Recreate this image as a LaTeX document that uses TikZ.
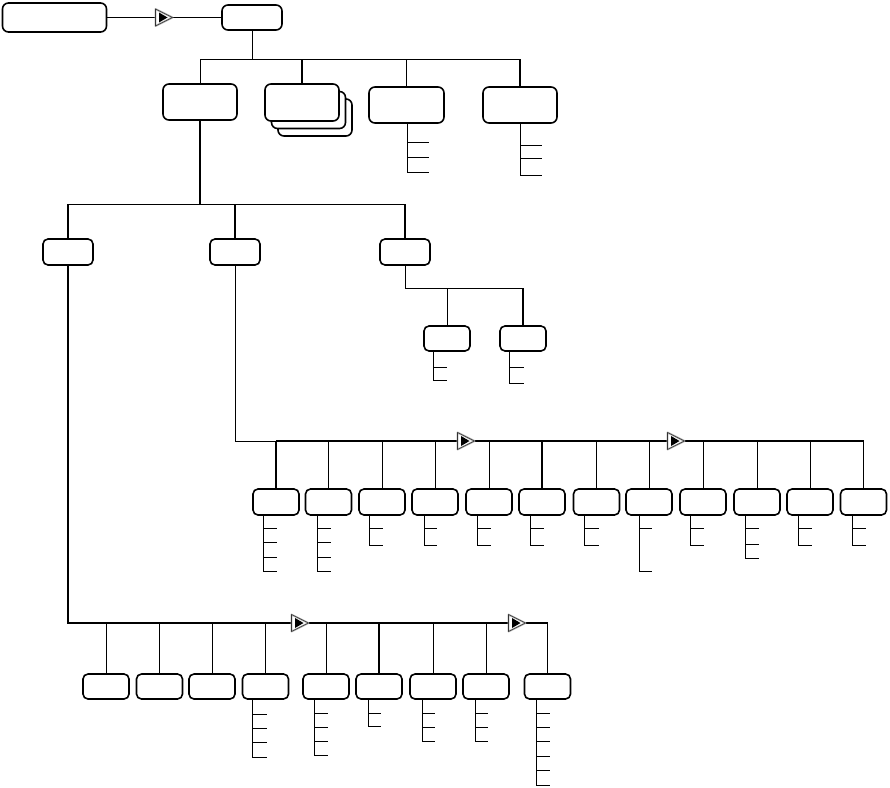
\documentclass[tikz,border=0pt]{standalone}
\usetikzlibrary{calc}
\newcommand\hanglist[4]{%
  \foreach \t in {#4}{\draw[thinl] ($(#1.south west)+(#2,0)$) |- ($(#1.south west)+(#2+#3,\t)$);}}
\begin{document}
\begin{tikzpicture}[x=1pt,y=-1pt,
  bx/.style={draw=black,line width=1.6pt,rounded corners=5pt,fill=white,inner sep=0pt,outer sep=0pt},
  bigbox/.style={bx,rounded corners=6pt},
  rowbox/.style={bx,minimum width=46pt,minimum height=26pt},
  botbox/.style={bx,minimum width=46pt,minimum height=25pt},
  thinl/.style={line width=0.9pt},
  thickl/.style={line width=1.8pt},
  mkr/.pic={
    \filldraw[fill=white,draw=gray!60,line width=1.8pt,line join=round] (-7.5,-8.5) -- (9.5,0) -- (-7.5,8.5) -- cycle;
    \draw[black!80,line width=0.6pt,line join=round] (-7.5,-8.5) -- (9.5,0) -- (-7.5,8.5) -- cycle;
    \fill[black] (-4,-5) -- (4.5,0) -- (-4,5) -- cycle;}
]
\useasboundingbox (0,0) rectangle (890,787);

% boxes
\node[bigbox,minimum width=104pt,minimum height=29pt] (A) at (54.5,17.5) {};
\node[bigbox,minimum width=60pt,minimum height=25pt] (B) at (252,17.5) {};
\node[bigbox,minimum width=74pt,minimum height=36pt] (C) at (200,102) {};
\node[bigbox,minimum width=74pt,minimum height=37pt] (D3) at (315,117.5) {};
\node[bigbox,minimum width=74pt,minimum height=37pt] (D2) at (308.5,110) {};
\node[bigbox,minimum width=74pt,minimum height=37pt] (D) at (302,102.5) {};
\node[bigbox,minimum width=75pt,minimum height=36pt] (E) at (406.5,105) {};
\node[bigbox,minimum width=74pt,minimum height=36pt] (F) at (520,105) {};
\node[bx,minimum width=50pt,minimum height=26pt] (L1) at (68,252) {};
\node[bx,minimum width=50pt,minimum height=26pt] (L2) at (235,252) {};
\node[bx,minimum width=50pt,minimum height=26pt] (L3) at (405,252) {};
\node[bx,minimum width=46pt,minimum height=25pt] (M1) at (447,338.5) {};
\node[bx,minimum width=46pt,minimum height=25pt] (M2) at (523,338.5) {};
\foreach \i/\x in {1/276,2/328.5,3/382,4/435,5/489,6/542,7/596.5,8/649,9/703,10/757,11/810,12/863.5}
  \node[rowbox] (r\i) at (\x,502) {};
\foreach \i/\x in {1/106,2/159.5,3/212,4/265.5,5/326,6/379,7/433,8/486,9/547.5}
  \node[botbox] (b\i) at (\x,686.5) {};

% junction coordinates
\coordinate (j1) at (252,59);
\coordinate (j2) at (200,204);
\coordinate (j3) at (405,288);
\coordinate (rowbus) at (235,441);
\coordinate (botbus) at (68,623);

% top
\draw[thinl] (A) -- (B);
\draw[thinl] (B.south) -- (B.south |- j1);
\draw[thinl] (C.north |- j1) -- (F.north |- j1);
\draw[thinl] (C.north |- j1) -- (C.north);
\draw[thickl] (D.north |- j1) -- (D.north);
\draw[thickl] (E.north |- j1) -- (E.north);
\draw[thickl] (F.north |- j1) -- (F.north);

% level 3
\draw[thickl] (C.south) -- (j2);
\draw[thinl] (L1.north |- j2) -- (L3.north |- j2);
\draw[thickl] (L1.north |- j2) -- (L1.north);
\draw[thickl] (L2.north |- j2) -- (L2.north);
\draw[thickl] (L3.north |- j2) -- (L3.north);

% under L3
\draw[thinl] (L3.south) |- (M2.north |- j3);
\draw[thinl] (M1.north |- j3) -- (M1.north);
\draw[thickl] (M2.north |- j3) -- (M2.north);

% row bus from L2
\draw[thinl] (L2.south) |- (r1.north |- rowbus);
\draw[thickl] (r1.north |- rowbus) -- (r1.north);
\draw[thickl] (r1.north |- rowbus) -| (r12.north);
\foreach \i in {2,3,4,5,7,8,9,10,11}
  \draw[thinl] (r\i.north |- rowbus) -- (r\i.north);
\draw[thickl] (r6.north |- rowbus) -- (r6.north);

% bottom bus from L1
\draw[thickl] (L1.south) |- (b9.north |- botbus);
\foreach \i in {1,2,3,4,5,7,8,9}
  \draw[thinl] (b\i.north |- botbus) -- (b\i.north);
\draw[thickl] (b6.north |- botbus) -- (b6.north);

% hanging lists
\hanglist{E}{38}{22}{19,34,49}
\hanglist{F}{37}{22}{22,35,52}
\hanglist{M1}{9}{14}{16,29}
\hanglist{M2}{9}{15}{16,32}
\hanglist{r1}{10}{14}{13,27,42,56}
\hanglist{r2}{12}{13}{13,27,42,56}
\hanglist{r3}{10}{14}{13,30}
\hanglist{r4}{12}{13}{13,30}
\hanglist{r5}{11}{14}{13,30}
\hanglist{r6}{11}{14}{13,30}
\hanglist{r7}{11}{14}{13,30}
\hanglist{r8}{13}{13}{13,56}
\hanglist{r9}{10}{14}{13,30}
\hanglist{r10}{11}{14}{13,29,43}
\hanglist{r11}{11}{14}{13,30}
\hanglist{r12}{12}{13}{13,30}
\hanglist{b4}{10}{14}{15,29,43,58}
\hanglist{b5}{11}{14}{14,28,42,56}
\hanglist{b6}{12}{13}{14,27}
\hanglist{b7}{12}{13}{14,28,42}
\hanglist{b8}{12}{13}{14,28,42}
\hanglist{b9}{12}{13}{14,28,42,57,71,86}

% markers
\coordinate (m0) at (163,17.5);
\coordinate (m1) at (465,441);
\coordinate (m2) at (675,441);
\coordinate (m3) at (299,623);
\coordinate (m4) at (516,623);
\foreach \m in {m0,m1,m2,m3,m4} \pic at (\m) {mkr};
\end{tikzpicture}
\end{document}
